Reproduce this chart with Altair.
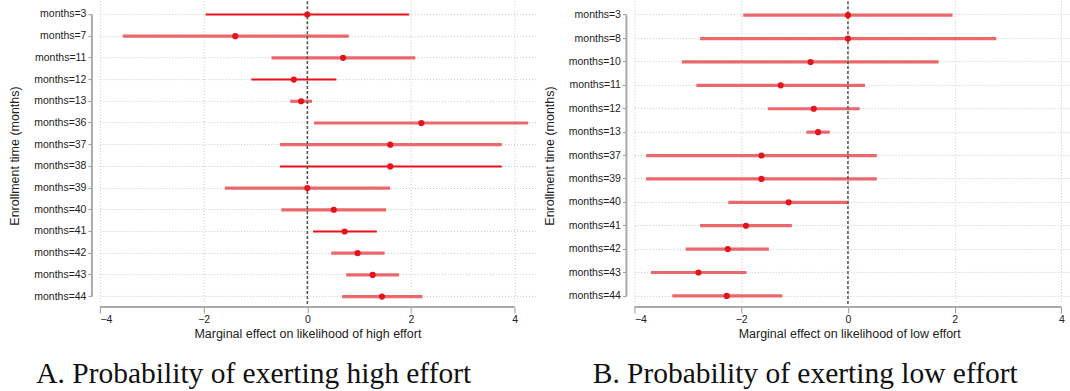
import altair as alt
import pandas as pd

# Panel A: probability of exerting high effort
high_labels = ["months=3", "months=7", "months=11", "months=12", "months=13",
               "months=36", "months=37", "months=38", "months=39", "months=40",
               "months=41", "months=42", "months=43", "months=44"]
high_est = [0.00, -1.39, 0.69, -0.26, -0.12, 2.20, 1.60, 1.60, 0.00, 0.51, 0.72, 0.97, 1.26, 1.44]
high_lo = [-1.96, -3.56, -0.69, -1.08, -0.33, 0.13, -0.53, -0.53, -1.59, -0.50, 0.11, 0.46, 0.75, 0.67]
high_hi = [1.96, 0.80, 2.08, 0.56, 0.09, 4.26, 3.75, 3.75, 1.60, 1.52, 1.34, 1.49, 1.77, 2.22]
high_style = ["dark", "light", "light", "dark", "light", "light", "light",
              "dark", "light", "light", "dark", "light", "light", "light"]

# Panel B: probability of exerting low effort
low_labels = ["months=3", "months=8", "months=10", "months=11", "months=12",
              "months=13", "months=37", "months=39", "months=40", "months=41",
              "months=42", "months=43", "months=44"]
low_est = [0.00, 0.00, -0.70, -1.26, -0.64, -0.56, -1.62, -1.62, -1.11, -1.91, -2.25, -2.80, -2.27]
low_lo = [-1.96, -2.77, -3.11, -2.84, -1.50, -0.78, -3.78, -3.78, -2.24, -2.77, -3.04, -3.69, -3.29]
low_hi = [1.96, 2.78, 1.70, 0.32, 0.22, -0.34, 0.54, 0.54, 0.02, -1.05, -1.48, -1.90, -1.23]
low_style = ["light"] * 13

x_ticks = [-4, -2, 0, 2, 4]

LABEL_FONT = "Liberation Sans"
CAPTION_FONT = "Liberation Serif"
PLOT_H = 303


def panel(labels, est, lo, hi, style, xmax, width, first_row, last_row,
          xtitle, xtitle_x, caption, caption_x):
    df = pd.DataFrame({"row": labels, "est": est, "lo": lo, "hi": hi, "style": style})
    # point scale keeps half a step of outer padding, so widen the range by that much
    step = (last_row - first_row) / (len(labels) - 1)
    yscale = alt.Scale(domain=labels, range=[first_row - step / 2, last_row + step / 2])
    xscale = alt.Scale(domain=[-4, xmax], nice=False, zero=False)

    y_enc = alt.Y(
        "row:O", scale=yscale,
        axis=alt.Axis(
            title="Enrollment time (months)", domain=False, offset=8,
            tickSize=4, tickColor="#999", labelFont=LABEL_FONT, labelFontSize=10.5,
            labelColor="#222", labelPadding=2,
            grid=True, gridColor="#c8c8c8", gridDash=[1, 2], gridWidth=1,
            titleFont=LABEL_FONT, titleFontSize=12.5, titleFontWeight="normal",
            titleColor="#222", titleAngle=270, titleAlign="center",
            titleBaseline="middle", titleX=-77, titleY=(first_row + last_row) / 2,
        ),
    )
    x_enc = alt.X(
        "lo:Q", scale=xscale,
        axis=alt.Axis(
            values=x_ticks, format="d", domain=False, offset=3, tickSize=6,
            tickColor="#999", labelFont=LABEL_FONT, labelFontSize=10.5,
            labelColor="#222", labelPadding=2,
            grid=True, gridColor="#c8c8c8", gridDash=[1, 2], gridWidth=1,
            title=xtitle, titleFont=LABEL_FONT, titleFontSize=12.5,
            titleFontWeight="normal", titleColor="#222",
            titleX=xtitle_x, titleY=27, titleAlign="center", titleBaseline="middle",
        ),
    )

    base = alt.Chart(df)
    ci_light = base.transform_filter(alt.datum.style == "light").mark_rule(
        color="#e9585c", strokeWidth=3.2, opacity=0.9
    ).encode(x=x_enc, x2="hi:Q", y=y_enc)
    ci_dark = base.transform_filter(alt.datum.style == "dark").mark_rule(
        color="#e8101a", strokeWidth=2
    ).encode(x=alt.X("lo:Q", scale=xscale), x2="hi:Q", y=alt.Y("row:O", scale=yscale))
    pts = base.mark_point(filled=True, color="#e3141b", size=38, opacity=1).encode(
        x=alt.X("est:Q", scale=xscale), y=alt.Y("row:O", scale=yscale)
    )

    zero_line = alt.Chart(pd.DataFrame({"z": [0]})).mark_rule(
        color="#555", strokeDash=[3, 2], strokeWidth=1.5
    ).encode(x=alt.X("z:Q", scale=xscale))

    # Axis baselines that run only over the tick range / row range
    x_base = alt.Chart(pd.DataFrame({"a": [-4], "b": [4]})).mark_rule(
        color="#aaa", strokeWidth=2
    ).encode(x=alt.X("a:Q", scale=xscale), x2="b:Q", y=alt.value(PLOT_H + 3))
    y_base = alt.Chart(pd.DataFrame({"a": [labels[0]], "b": [labels[-1]]})).mark_rule(
        color="#aaa", strokeWidth=2
    ).encode(y=alt.Y("a:O", scale=yscale), y2="b:O", x=alt.value(-8))

    cap = alt.Chart(pd.DataFrame({"t": [caption]})).mark_text(
        font=CAPTION_FONT, fontSize=29.5, color="#111", align="center", baseline="middle"
    ).encode(text="t:N", x=alt.value(caption_x), y=alt.value(373))

    return alt.layer(ci_light, ci_dark, zero_line, pts, x_base, y_base, cap).properties(
        width=width, height=PLOT_H
    )


left = panel(high_labels, high_est, high_lo, high_hi, high_style, 4.42, 437, 13.3, 295.7,
             "Marginal effect on likelihood of high effort", 207.7,
             "A. Probability of exerting high effort", 154)
right = panel(low_labels, low_est, low_lo, low_hi, low_style, 4.16, 436, 14, 295,
              "Marginal effect on likelihood of low effort", 215,
              "B. Probability of exerting low effort", 171)

chart = alt.hconcat(left, right, spacing=7).properties(
    padding={"left": 9, "top": 0, "right": 0, "bottom": 0},
    background="white",
).configure_view(stroke=None)

chart.save("out.html", embed_options={"renderer": "svg", "actions": False})
